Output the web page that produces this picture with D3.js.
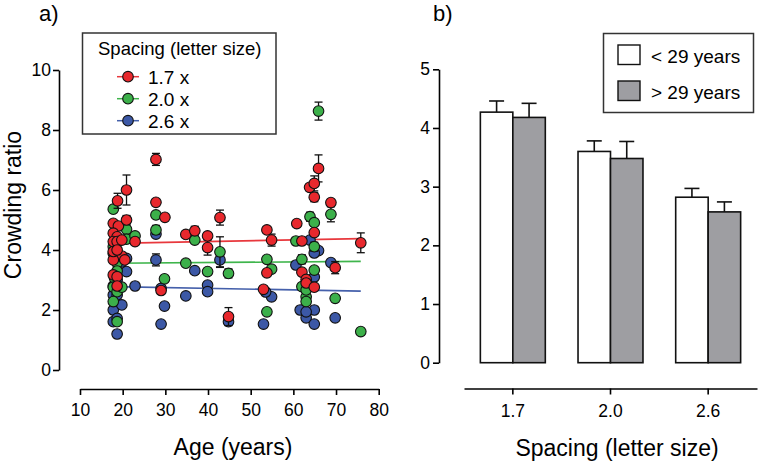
<!DOCTYPE html>
<html>
<head>
<meta charset="utf-8">
<script src="https://cdn.jsdelivr.net/npm/d3@7"></script>
<style>
  html, body { margin: 0; padding: 0; background: #fff; }
  svg { display: block; font-family: "Liberation Sans", Arial, Helvetica, sans-serif; }
</style>
</head>
<body>
<svg id="chart" width="758" height="463"></svg>
<script>
// ---------- Panel a) data: age (years), crowding ratio, error (SE) ----------
const redAge   = [20.9,18.8,27.8,27.8,29.9,34.8,36.9,39.9,39.9,42.8,44.8,53.8,54.9,53.8,53.0,60.8,62.0,62.0,63.0,63.0,64.9,64.9,63.8,64.9,64.9,65.9,68.8,69.8,75.8,29.0,
                  17.8,19.0,20.9,17.8,18.7,17.8,18.7,19.8,22.9,17.8,18.7,19.8,17.8,20.5,17.8,18.7,18.7,17.8,18.7];
const redRatio = [6.0,5.64,7.02,5.59,5.09,4.52,4.64,4.47,4.08,5.08,1.78,4.67,4.33,3.24,2.69,4.88,4.3,3.26,3.02,2.9,4.58,2.76,6.09,6.22,5.76,6.72,5.58,3.41,4.24,2.65,
                  4.89,4.8,5.0,4.56,4.44,4.28,4.28,4.33,4.28,3.89,3.8,3.8,3.67,3.67,3.17,3.11,2.8,3.95,4.0];
const redErr   = [0.5,0.25,0.2,0.1,0.08,0,0.15,0.1,0.25,0.25,0.3,0.1,0.2,0,0,0,0,0,0,0,0.1,0,0,0.25,0.15,0.45,0,0.2,0.33,0,
                  0,0,0.15,0,0,0,0,0,0,0,0,0,0,0,0,0,0,0,0];

const greenAge   = [17.8,20.9,20.9,22.9,17.8,18.7,18.1,17.8,18.7,17.8,18.7,19.8,18.7,27.8,27.8,29.8,36.9,34.8,39.9,42.8,44.8,53.8,54.9,53.8,60.6,62.0,62.0,63.0,63.0,63.9,64.9,64.9,64.9,65.9,68.8,69.8,75.8,63.0];
const greenRatio = [5.36,4.69,4.36,4.47,4.11,3.56,3.06,2.76,2.61,2.28,1.61,2.76,3.3,5.17,4.67,3.04,4.33,3.56,3.28,3.94,3.22,3.69,3.36,1.94,4.3,3.69,2.78,2.44,2.28,5.11,4.91,4.11,3.33,8.63,5.19,2.39,1.28,2.67];
const greenErr   = [0.1,0,0,0.1,0,0,0,0,0,0,0,0,0,0,0.15,0,0,0.08,0,0.5,0.15,0,0,0,0,0.15,0,0,0,0.15,0,0.15,0,0.3,0.25,0,0,0];

const blueAge   = [20.9,20.9,22.9,17.8,18.7,17.8,19.8,17.8,18.7,18.7,18.7,19.8,17.8,27.8,27.8,29.0,29.8,29.0,34.8,36.9,39.9,39.9,42.8,44.8,53.0,54.9,53.5,60.6,61.6,63.0,64.9,64.9,63.9,65.9,64.9,64.9,63.0,68.8,69.8,63.0];
const blueRatio = [3.72,3.28,2.8,2.5,2.5,2.0,2.17,1.61,1.72,1.2,3.0,3.6,2.8,3.67,4.53,1.53,2.13,2.72,2.47,3.31,2.83,2.61,3.67,1.61,1.53,2.44,2.6,3.5,2.0,1.74,2.0,1.53,4.33,3.98,3.9,3.1,2.7,3.58,1.74,1.94];
const blueErr   = [0,0,0,0,0,0,0,0,0,0,0,0,0,0.2,0,0,0.1,0,0,0,0,0,0.25,0.08,0,0,0,0,0,0,0,0,0,0,0,0,0,0,0,0];

// regression fits (endpoints)
const fitAge   = [17.8, 75.8];
const fitRed   = [4.22, 4.38];
const fitGreen = [3.56, 3.62];
const fitBlue  = [2.78, 2.63];

const ageTicks   = [10,20,30,40,50,60,70,80];
const ratioTicks = [0,2,4,6,8,10];
const spacingLabels = ["1.7 x","2.0 x","2.6 x"];

// ---------- Panel b) data ----------
const spacings   = ["1.7","2.0","2.6"];
const groups     = ["< 29 years","> 29 years"];
const youngMean  = [4.27, 3.60, 2.82];
const youngErr   = [0.19, 0.18, 0.15];
const oldMean    = [4.18, 3.48, 2.57];
const oldErr     = [0.24, 0.29, 0.17];
const barTicks   = [0,1,2,3,4,5];

// ---------- Drawing ----------
const svg = d3.select("#chart");
const RED = "#e8282d", GREEN = "#3cb04a", BLUE = "#3c58a6";
const LRED = "#e8383d", LGREEN = "#3fb54c", LBLUE = "#4560ab";
const GRAY = "#9e9ea2";

function styleAxis(g, fs) {
  g.selectAll("path.domain").attr("stroke", "#000").attr("stroke-width", 1.6);
  g.selectAll(".tick line").attr("stroke", "#000").attr("stroke-width", 1.6);
  g.selectAll(".tick text").attr("font-size", fs).attr("fill", "#000")
    .attr("font-family", "'Liberation Sans', Arial, Helvetica, sans-serif");
}

// ----- Panel a -----
const xA = d3.scaleLinear().domain([10, 80]).range([80, 378.7]);
const yA = d3.scaleLinear().domain([0, 10]).range([370, 70]);

const gxA = svg.append("g").attr("transform", "translate(0,389)")
  .call(d3.axisBottom(xA).tickValues(ageTicks).tickSize(6).tickSizeOuter(0).tickPadding(9).tickFormat(d3.format("d")));
styleAxis(gxA, 17.5);
const gyA = svg.append("g").attr("transform", "translate(59,0)")
  .call(d3.axisLeft(yA).tickValues(ratioTicks).tickSize(6).tickSizeOuter(0).tickPadding(2).tickFormat(d3.format("d")));
styleAxis(gyA, 17.5);

svg.append("text").attr("x", 233).attr("y", 455).attr("text-anchor", "middle")
  .attr("font-size", 23).text("Age (years)");
svg.append("text").attr("transform", "translate(21,205) rotate(-90)").attr("text-anchor", "middle")
  .attr("font-size", 23).text("Crowding ratio");
svg.append("text").attr("x", 39).attr("y", 21).attr("font-size", 22).text("a)");

// regression lines
const fitLine = d3.line().x(d => xA(d[0])).y(d => yA(d[1]));
[[fitBlue, LBLUE], [fitGreen, LGREEN], [fitRed, LRED]].forEach(([fit, col]) => {
  svg.append("path").datum(fitAge.map((a, i) => [a, fit[i]]))
    .attr("d", fitLine).attr("fill", "none").attr("stroke", col).attr("stroke-width", 1.6);
});

function drawSeries(ages, vals, errs, col) {
  const data = ages.map((a, i) => ({a, v: vals[i], e: errs[i]}));
  const g = svg.append("g");
  const eb = data.filter(d => d.e > 0);
  g.selectAll("line.eb").data(eb).join("line")
    .attr("x1", d => xA(d.a)).attr("x2", d => xA(d.a))
    .attr("y1", d => yA(d.v - d.e)).attr("y2", d => yA(d.v + d.e))
    .attr("stroke", "#111").attr("stroke-width", 1.3);
  [1, -1].forEach(s => {
    g.selectAll("line.cap" + s).data(eb).join("line")
      .attr("x1", d => xA(d.a) - 4).attr("x2", d => xA(d.a) + 4)
      .attr("y1", d => yA(d.v + s * d.e)).attr("y2", d => yA(d.v + s * d.e))
      .attr("stroke", "#111").attr("stroke-width", 1.3);
  });
  g.selectAll("circle").data(data).join("circle")
    .attr("cx", d => xA(d.a)).attr("cy", d => yA(d.v)).attr("r", 5.3)
    .attr("fill", col).attr("stroke", "#111").attr("stroke-width", 1.1);
}
drawSeries(blueAge, blueRatio, blueErr, BLUE);
drawSeries(greenAge, greenRatio, greenErr, GREEN);
drawSeries(redAge, redRatio, redErr, RED);

// legend a
const legA = svg.append("g");
legA.append("rect").attr("x", 82.5).attr("y", 33).attr("width", 193.5).attr("height", 101)
  .attr("fill", "#fff").attr("stroke", "#333").attr("stroke-width", 1.5);
legA.append("text").attr("x", 98).attr("y", 54.5).attr("font-size", 18.5).text("Spacing (letter size)");
[[RED, LRED], [GREEN, LGREEN], [BLUE, LBLUE]].forEach(([c, lc], i) => {
  const cy = 76.7 + i * 22;
  legA.append("line").attr("x1", 117).attr("x2", 139).attr("y1", cy).attr("y2", cy)
    .attr("stroke", lc).attr("stroke-width", 1.5);
  legA.append("circle").attr("cx", 128).attr("cy", cy).attr("r", 5.3)
    .attr("fill", c).attr("stroke", "#111").attr("stroke-width", 1.1);
  legA.append("text").attr("x", 148).attr("y", cy + 6.8).attr("font-size", 19).text(spacingLabels[i]);
});

// ----- Panel b -----
const xB = d3.scaleBand().domain(spacings).range([464, 757]).paddingInner(0.335).paddingOuter(0.1675);
const xSub = d3.scaleBand().domain(groups).range([0, xB.bandwidth()]);
const yB = d3.scaleLinear().domain([0, 5]).range([362.7, 69.3]);

const gxB = svg.append("g").attr("transform", "translate(0,388.5)")
  .call(d3.axisBottom(xB).tickSize(6).tickSizeOuter(0).tickPadding(10));
styleAxis(gxB, 17.5);
const gyB = svg.append("g").attr("transform", "translate(439,0)")
  .call(d3.axisLeft(yB).tickValues(barTicks).tickSize(6).tickSizeOuter(0).tickPadding(3).tickFormat(d3.format("d")));
styleAxis(gyB, 17.5);

svg.append("text").attr("x", 617).attr("y", 456).attr("text-anchor", "middle")
  .attr("font-size", 23).text("Spacing (letter size)");
svg.append("text").attr("x", 433).attr("y", 21).attr("font-size", 22).text("b)");

const barData = [];
spacings.forEach((s, i) => {
  barData.push({s, g: groups[0], v: youngMean[i], e: youngErr[i], fill: "#fff"});
  barData.push({s, g: groups[1], v: oldMean[i], e: oldErr[i], fill: GRAY});
});
const gb = svg.append("g");
// error bars (upward)
gb.selectAll("line.eb").data(barData).join("line")
  .attr("x1", d => xB(d.s) + xSub(d.g) + xSub.bandwidth() / 2)
  .attr("x2", d => xB(d.s) + xSub(d.g) + xSub.bandwidth() / 2)
  .attr("y1", d => yB(d.v)).attr("y2", d => yB(d.v + d.e))
  .attr("stroke", "#111").attr("stroke-width", 1.6);
gb.selectAll("line.cap").data(barData).join("line")
  .attr("x1", d => xB(d.s) + xSub(d.g) + xSub.bandwidth() / 2 - 7.5)
  .attr("x2", d => xB(d.s) + xSub(d.g) + xSub.bandwidth() / 2 + 7.5)
  .attr("y1", d => yB(d.v + d.e)).attr("y2", d => yB(d.v + d.e))
  .attr("stroke", "#111").attr("stroke-width", 1.6);
gb.selectAll("rect").data(barData).join("rect")
  .attr("x", d => xB(d.s) + xSub(d.g)).attr("width", xSub.bandwidth())
  .attr("y", d => yB(d.v)).attr("height", d => yB(0) - yB(d.v))
  .attr("fill", d => d.fill).attr("stroke", "#111").attr("stroke-width", 1.6);

// legend b
const legB = svg.append("g");
legB.append("rect").attr("x", 603.5).attr("y", 33.5).attr("width", 150).attr("height", 79)
  .attr("fill", "#fff").attr("stroke", "#333").attr("stroke-width", 1.5);
groups.forEach((g, i) => {
  const top = 45 + i * 36;
  legB.append("rect").attr("x", 618).attr("y", top).attr("width", 22).attr("height", 19.5)
    .attr("fill", i === 0 ? "#fff" : GRAY).attr("stroke", "#111").attr("stroke-width", 1.4);
  legB.append("text").attr("x", 651).attr("y", top + 18).attr("font-size", 19).text(g);
});
</script>
</body>
</html>
